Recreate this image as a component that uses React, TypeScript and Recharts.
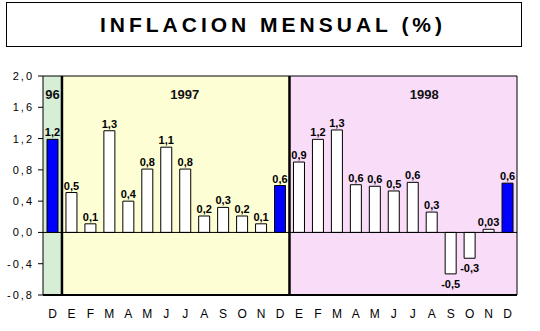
import { BarChart, Bar, XAxis, YAxis, ReferenceArea, ReferenceLine, LabelList, Cell } from 'recharts';

const KEYS = ['D96', 'E97', 'F97', 'M97', 'A97', 'Y97', 'J97', 'L97', 'G97', 'S97', 'O97', 'N97', 'D97',
  'E98', 'F98', 'M98', 'A98', 'Y98', 'J98', 'L98', 'G98', 'S98', 'O98', 'N98', 'D98'];
const MONTHS = ['D', 'E', 'F', 'M', 'A', 'M', 'J', 'J', 'A', 'S', 'O', 'N', 'D',
  'E', 'F', 'M', 'A', 'M', 'J', 'J', 'A', 'S', 'O', 'N', 'D'];
const VALUES = [1.19, 0.51, 0.11, 1.3, 0.4, 0.81, 1.09, 0.81, 0.21, 0.32, 0.21, 0.11, 0.6,
  0.9, 1.19, 1.31, 0.61, 0.59, 0.53, 0.64, 0.26, -0.53, -0.33, 0.04, 0.63];
const LABELS = ['1,2', '0,5', '0,1', '1,3', '0,4', '0,8', '1,1', '0,8', '0,2', '0,3', '0,2', '0,1', '0,6',
  '0,9', '1,2', '1,3', '0,6', '0,6', '0,5', '0,6', '0,3', '-0,5', '-0,3', '0,03', '0,6'];
const DECEMBERS = ['D96', 'D97', 'D98'];
const Y_TICKS = [-0.8, -0.4, 0, 0.4, 0.8, 1.2, 1.6, 2];

const data = KEYS.map((key, i) => ({ key, value: VALUES[i], label: LABELS[i] }));

const FONT = "'Liberation Sans', Arial, sans-serif";
const NARROW = "'Liberation Sans Narrow', 'Liberation Sans', Arial, sans-serif";

const fmt = (v: number) => v.toFixed(1).replace('.', ',');

const YTick = ({ x, y, payload }: any) => (
  <text x={x} y={y} dy={4} textAnchor="end" fontSize={11} fontFamily={FONT} fill="#000" letterSpacing={2}>
    {fmt(payload.value)}
  </text>
);

const XTick = ({ x, y, payload }: any) => (
  <text x={x} y={y + 23} textAnchor="middle" fontSize={12} fontFamily={FONT} fill="#000">
    {MONTHS[KEYS.indexOf(payload.value)]}
  </text>
);

const BarLabel = (props: any) => {
  const { x, y, width, height, value } = props;
  const top = Math.min(y, y + height);
  const bottom = Math.max(y, y + height);
  const neg = String(value).startsWith('-');
  return (
    <text x={x + width / 2} y={neg ? bottom + 14 : top - 3} textAnchor="middle" fontSize={11}
      fontWeight="bold" fontFamily={NARROW} fill="#000">
      {value}
    </text>
  );
};

const yearLabel = (text: string, dx: number) => (props: any) => {
  const vb = props.viewBox;
  return (
    <text x={vb.x + vb.width / 2 + dx} y={vb.y + 23} textAnchor="middle" fontSize={13}
      fontWeight="bold" fontFamily={FONT} fill="#111">
      {text}
    </text>
  );
};

export default function App() {
  return (
    <div style={{ position: 'absolute', left: 0, top: 0, width: 540, height: 331, background: '#fff' }}>
      <div style={{
        position: 'absolute', left: 6, top: 2, width: 516, height: 45, boxSizing: 'border-box',
        border: '1px solid #000', textAlign: 'center', lineHeight: '43px', paddingLeft: 18,
        fontFamily: FONT, fontWeight: 'bold', fontSize: 21, letterSpacing: 4, color: '#000'
      }}>
        INFLACION MENSUAL (%)
      </div>
      <BarChart width={540} height={331} data={data} margin={{ top: 76, right: 23, bottom: 0, left: 0 }}
        barSize={11} style={{ position: 'absolute', left: 0, top: 0 }}>
        <XAxis dataKey="key" tickLine={false} tickSize={0} tickMargin={0} interval={0}
          axisLine={{ stroke: '#000', strokeWidth: 2 }} tick={<XTick />} height={36} />
        <YAxis domain={[-0.8, 2]} ticks={Y_TICKS} width={43} tickSize={5} tickMargin={4}
          axisLine={{ stroke: '#000' }} tickLine={{ stroke: '#000' }} tick={<YTick />} allowDataOverflow />
        <ReferenceArea x1="D96" x2="D96" y1={-0.8} y2={2} fill="#d6eed6" fillOpacity={1}
          label={yearLabel('96', 0)} />
        <ReferenceArea x1="E97" x2="D97" y1={-0.8} y2={2} fill="#fefed4" fillOpacity={1}
          label={yearLabel('1997', 9)} />
        <ReferenceArea x1="E98" x2="D98" y1={-0.8} y2={2} fill="#f8dcf8" fillOpacity={1}
          label={yearLabel('1998', 21)} />
        <ReferenceLine y={0} stroke="#000" strokeWidth={1} />
        <ReferenceLine y={2} stroke="#000" strokeWidth={1} />
        <ReferenceLine x="D98" position="end" stroke="#000" strokeWidth={1} />
        <ReferenceLine x="E97" position="start" stroke="#000" strokeWidth={2.5} />
        <ReferenceLine x="E98" position="start" stroke="#000" strokeWidth={2.5} />
        <Bar dataKey="value" stroke="#000" strokeWidth={1} isAnimationActive={false}>
          {data.map((d) => (
            <Cell key={d.key} fill={DECEMBERS.includes(d.key) ? '#0000ff' : '#fff'} />
          ))}
          <LabelList dataKey="label" content={<BarLabel />} />
        </Bar>
      </BarChart>
    </div>
  );
}
